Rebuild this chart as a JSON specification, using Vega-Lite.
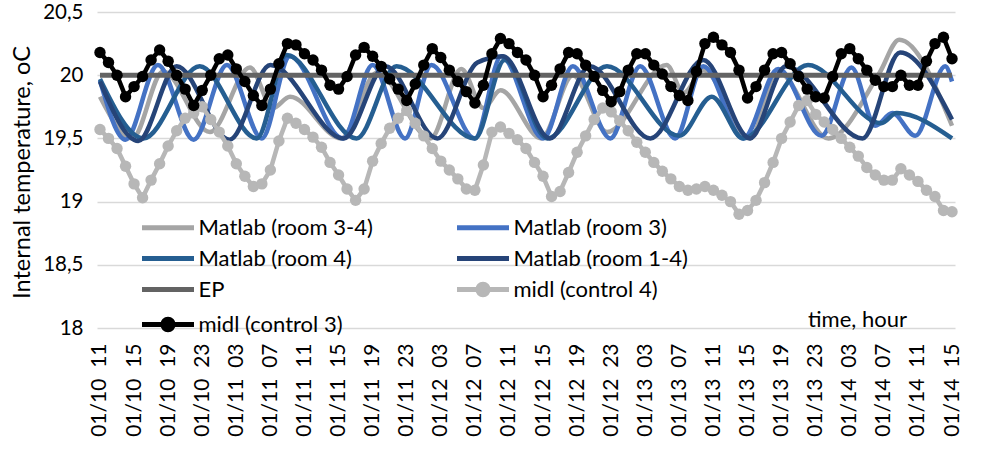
{
  "$schema": "https://vega.github.io/schema/vega-lite/v6.json",
  "width": 858,
  "height": 316,
  "autosize": "none",
  "padding": {"left": 97, "top": 12, "right": 37, "bottom": 126},
  "background": "white",
  "config": {
    "view": {"stroke": null},
    "font": "Lato",
    "axis": {"labelColor": "#000", "titleColor": "#000", "titleFontWeight": "normal", "labelFont": "Lato", "titleFont": "Lato"}
  },
  "data": {
    "values": [
      {"s": "Matlab (room 3-4)", "h": 0, "v": 19.83}, {"s": "Matlab (room 3-4)", "h": 3.8, "v": 19.5}, {"s": "Matlab (room 3-4)", "h": 7.4, "v": 20.03}, {"s": "Matlab (room 3-4)", "h": 12.9, "v": 19.55}, {"s": "Matlab (room 3-4)", "h": 17.6, "v": 20.06}, {"s": "Matlab (room 3-4)", "h": 20.3, "v": 19.74}, {"s": "Matlab (room 3-4)", "h": 22.3, "v": 19.83}, {"s": "Matlab (room 3-4)", "h": 28.3, "v": 19.5}, {"s": "Matlab (room 3-4)", "h": 32.5, "v": 20.02}, {"s": "Matlab (room 3-4)", "h": 38.8, "v": 19.5}, {"s": "Matlab (room 3-4)", "h": 42.4, "v": 20.05}, {"s": "Matlab (room 3-4)", "h": 45, "v": 19.74}, {"s": "Matlab (room 3-4)", "h": 47, "v": 19.88}, {"s": "Matlab (room 3-4)", "h": 51.8, "v": 19.5}, {"s": "Matlab (room 3-4)", "h": 55.5, "v": 20.0}, {"s": "Matlab (room 3-4)", "h": 59.5, "v": 19.55}, {"s": "Matlab (room 3-4)", "h": 66.5, "v": 20.08}, {"s": "Matlab (room 3-4)", "h": 68.5, "v": 19.86}, {"s": "Matlab (room 3-4)", "h": 70.8, "v": 20.04}, {"s": "Matlab (room 3-4)", "h": 76.3, "v": 19.5}, {"s": "Matlab (room 3-4)", "h": 79.5, "v": 20.03}, {"s": "Matlab (room 3-4)", "h": 85.5, "v": 19.5}, {"s": "Matlab (room 3-4)", "h": 91.5, "v": 20.02}, {"s": "Matlab (room 3-4)", "h": 93.8, "v": 20.28}, {"s": "Matlab (room 3-4)", "h": 100, "v": 19.6},

      {"s": "Matlab (room 3)", "h": 0, "v": 19.96}, {"s": "Matlab (room 3)", "h": 3, "v": 19.49}, {"s": "Matlab (room 3)", "h": 6.8, "v": 20.08}, {"s": "Matlab (room 3)", "h": 11, "v": 19.49}, {"s": "Matlab (room 3)", "h": 14.9, "v": 20.08}, {"s": "Matlab (room 3)", "h": 19, "v": 19.5}, {"s": "Matlab (room 3)", "h": 22.3, "v": 20.15}, {"s": "Matlab (room 3)", "h": 28.5, "v": 19.5}, {"s": "Matlab (room 3)", "h": 32, "v": 20.08}, {"s": "Matlab (room 3)", "h": 35.8, "v": 19.5}, {"s": "Matlab (room 3)", "h": 38.9, "v": 20.08}, {"s": "Matlab (room 3)", "h": 44, "v": 19.5}, {"s": "Matlab (room 3)", "h": 47.1, "v": 20.15}, {"s": "Matlab (room 3)", "h": 52, "v": 19.5}, {"s": "Matlab (room 3)", "h": 55.5, "v": 20.07}, {"s": "Matlab (room 3)", "h": 59.9, "v": 19.5}, {"s": "Matlab (room 3)", "h": 63.4, "v": 20.07}, {"s": "Matlab (room 3)", "h": 67.5, "v": 19.5}, {"s": "Matlab (room 3)", "h": 70.8, "v": 20.07}, {"s": "Matlab (room 3)", "h": 75.5, "v": 19.5}, {"s": "Matlab (room 3)", "h": 79.6, "v": 20.05}, {"s": "Matlab (room 3)", "h": 84.7, "v": 19.52}, {"s": "Matlab (room 3)", "h": 88.2, "v": 20.06}, {"s": "Matlab (room 3)", "h": 91, "v": 19.6}, {"s": "Matlab (room 3)", "h": 93, "v": 19.7}, {"s": "Matlab (room 3)", "h": 95.7, "v": 19.52}, {"s": "Matlab (room 3)", "h": 99.2, "v": 20.07}, {"s": "Matlab (room 3)", "h": 100, "v": 19.95},

      {"s": "Matlab (room 4)", "h": 0, "v": 19.97}, {"s": "Matlab (room 4)", "h": 5.1, "v": 19.5}, {"s": "Matlab (room 4)", "h": 11.7, "v": 20.07}, {"s": "Matlab (room 4)", "h": 18.4, "v": 19.5}, {"s": "Matlab (room 4)", "h": 21.9, "v": 20.16}, {"s": "Matlab (room 4)", "h": 30.1, "v": 19.5}, {"s": "Matlab (room 4)", "h": 34.8, "v": 20.07}, {"s": "Matlab (room 4)", "h": 44, "v": 19.5}, {"s": "Matlab (room 4)", "h": 47.5, "v": 20.12}, {"s": "Matlab (room 4)", "h": 52.5, "v": 19.5}, {"s": "Matlab (room 4)", "h": 59.5, "v": 20.07}, {"s": "Matlab (room 4)", "h": 68, "v": 19.52}, {"s": "Matlab (room 4)", "h": 71.8, "v": 19.83}, {"s": "Matlab (room 4)", "h": 75.5, "v": 19.5}, {"s": "Matlab (room 4)", "h": 83.1, "v": 20.08}, {"s": "Matlab (room 4)", "h": 91.7, "v": 19.62}, {"s": "Matlab (room 4)", "h": 93.5, "v": 19.7}, {"s": "Matlab (room 4)", "h": 100, "v": 19.5},

      {"s": "Matlab (room 1-4)", "h": 0, "v": 19.95}, {"s": "Matlab (room 1-4)", "h": 4.5, "v": 19.48}, {"s": "Matlab (room 1-4)", "h": 9, "v": 20.07}, {"s": "Matlab (room 1-4)", "h": 15.2, "v": 19.49}, {"s": "Matlab (room 1-4)", "h": 20, "v": 20.08}, {"s": "Matlab (room 1-4)", "h": 28.6, "v": 19.5}, {"s": "Matlab (room 1-4)", "h": 33.5, "v": 20.07}, {"s": "Matlab (room 1-4)", "h": 39.6, "v": 19.5}, {"s": "Matlab (room 1-4)", "h": 44.3, "v": 20.1}, {"s": "Matlab (room 1-4)", "h": 47.3, "v": 20.15}, {"s": "Matlab (room 1-4)", "h": 52.8, "v": 19.5}, {"s": "Matlab (room 1-4)", "h": 57.5, "v": 20.07}, {"s": "Matlab (room 1-4)", "h": 64.6, "v": 19.5}, {"s": "Matlab (room 1-4)", "h": 70.8, "v": 20.12}, {"s": "Matlab (room 1-4)", "h": 76.3, "v": 19.5}, {"s": "Matlab (room 1-4)", "h": 80.5, "v": 20.07}, {"s": "Matlab (room 1-4)", "h": 89.5, "v": 19.5}, {"s": "Matlab (room 1-4)", "h": 93.9, "v": 20.18}, {"s": "Matlab (room 1-4)", "h": 100, "v": 19.65},

      {"s": "EP", "h": 0, "v": 20}, {"s": "EP", "h": 100, "v": 20},

      {"s": "midl (control 4)", "h": 0, "v": 19.57}, {"s": "midl (control 4)", "h": 1, "v": 19.5}, {"s": "midl (control 4)", "h": 2, "v": 19.42}, {"s": "midl (control 4)", "h": 3, "v": 19.28}, {"s": "midl (control 4)", "h": 4, "v": 19.14}, {"s": "midl (control 4)", "h": 5, "v": 19.03}, {"s": "midl (control 4)", "h": 6, "v": 19.17}, {"s": "midl (control 4)", "h": 7, "v": 19.3}, {"s": "midl (control 4)", "h": 8, "v": 19.44}, {"s": "midl (control 4)", "h": 9, "v": 19.56},
      {"s": "midl (control 4)", "h": 10, "v": 19.66}, {"s": "midl (control 4)", "h": 11, "v": 19.7}, {"s": "midl (control 4)", "h": 12, "v": 19.75}, {"s": "midl (control 4)", "h": 13, "v": 19.65}, {"s": "midl (control 4)", "h": 14, "v": 19.55}, {"s": "midl (control 4)", "h": 15, "v": 19.44}, {"s": "midl (control 4)", "h": 16, "v": 19.3}, {"s": "midl (control 4)", "h": 17, "v": 19.2}, {"s": "midl (control 4)", "h": 18, "v": 19.12}, {"s": "midl (control 4)", "h": 19, "v": 19.14},
      {"s": "midl (control 4)", "h": 20, "v": 19.25}, {"s": "midl (control 4)", "h": 21, "v": 19.48}, {"s": "midl (control 4)", "h": 22, "v": 19.66}, {"s": "midl (control 4)", "h": 23, "v": 19.62}, {"s": "midl (control 4)", "h": 24, "v": 19.57}, {"s": "midl (control 4)", "h": 25, "v": 19.51}, {"s": "midl (control 4)", "h": 26, "v": 19.43}, {"s": "midl (control 4)", "h": 27, "v": 19.31}, {"s": "midl (control 4)", "h": 28, "v": 19.21}, {"s": "midl (control 4)", "h": 29, "v": 19.1},
      {"s": "midl (control 4)", "h": 30, "v": 19.01}, {"s": "midl (control 4)", "h": 31, "v": 19.1}, {"s": "midl (control 4)", "h": 32, "v": 19.32}, {"s": "midl (control 4)", "h": 33, "v": 19.46}, {"s": "midl (control 4)", "h": 34, "v": 19.58}, {"s": "midl (control 4)", "h": 35, "v": 19.66}, {"s": "midl (control 4)", "h": 36, "v": 19.72}, {"s": "midl (control 4)", "h": 37, "v": 19.62}, {"s": "midl (control 4)", "h": 38, "v": 19.52}, {"s": "midl (control 4)", "h": 39, "v": 19.42},
      {"s": "midl (control 4)", "h": 40, "v": 19.32}, {"s": "midl (control 4)", "h": 41, "v": 19.25}, {"s": "midl (control 4)", "h": 42, "v": 19.18}, {"s": "midl (control 4)", "h": 43, "v": 19.1}, {"s": "midl (control 4)", "h": 44, "v": 19.09}, {"s": "midl (control 4)", "h": 45, "v": 19.29}, {"s": "midl (control 4)", "h": 46, "v": 19.55}, {"s": "midl (control 4)", "h": 47, "v": 19.59}, {"s": "midl (control 4)", "h": 48, "v": 19.54}, {"s": "midl (control 4)", "h": 49, "v": 19.49},
      {"s": "midl (control 4)", "h": 50, "v": 19.42}, {"s": "midl (control 4)", "h": 51, "v": 19.31}, {"s": "midl (control 4)", "h": 52, "v": 19.2}, {"s": "midl (control 4)", "h": 53, "v": 19.04}, {"s": "midl (control 4)", "h": 54, "v": 19.08}, {"s": "midl (control 4)", "h": 55, "v": 19.23}, {"s": "midl (control 4)", "h": 56, "v": 19.39}, {"s": "midl (control 4)", "h": 57, "v": 19.52}, {"s": "midl (control 4)", "h": 58, "v": 19.65}, {"s": "midl (control 4)", "h": 59, "v": 19.74},
      {"s": "midl (control 4)", "h": 60, "v": 19.71}, {"s": "midl (control 4)", "h": 61, "v": 19.64}, {"s": "midl (control 4)", "h": 62, "v": 19.56}, {"s": "midl (control 4)", "h": 63, "v": 19.47}, {"s": "midl (control 4)", "h": 64, "v": 19.39}, {"s": "midl (control 4)", "h": 65, "v": 19.31}, {"s": "midl (control 4)", "h": 66, "v": 19.24}, {"s": "midl (control 4)", "h": 67, "v": 19.18}, {"s": "midl (control 4)", "h": 68, "v": 19.12}, {"s": "midl (control 4)", "h": 69, "v": 19.09},
      {"s": "midl (control 4)", "h": 70, "v": 19.1}, {"s": "midl (control 4)", "h": 71, "v": 19.12}, {"s": "midl (control 4)", "h": 72, "v": 19.09}, {"s": "midl (control 4)", "h": 73, "v": 19.05}, {"s": "midl (control 4)", "h": 74, "v": 19.0}, {"s": "midl (control 4)", "h": 75, "v": 18.9}, {"s": "midl (control 4)", "h": 76, "v": 18.93}, {"s": "midl (control 4)", "h": 77, "v": 19.01}, {"s": "midl (control 4)", "h": 78, "v": 19.15}, {"s": "midl (control 4)", "h": 79, "v": 19.31},
      {"s": "midl (control 4)", "h": 80, "v": 19.5}, {"s": "midl (control 4)", "h": 81, "v": 19.63}, {"s": "midl (control 4)", "h": 82, "v": 19.76}, {"s": "midl (control 4)", "h": 83, "v": 19.8}, {"s": "midl (control 4)", "h": 84, "v": 19.69}, {"s": "midl (control 4)", "h": 85, "v": 19.63}, {"s": "midl (control 4)", "h": 86, "v": 19.57}, {"s": "midl (control 4)", "h": 87, "v": 19.5}, {"s": "midl (control 4)", "h": 88, "v": 19.43}, {"s": "midl (control 4)", "h": 89, "v": 19.36},
      {"s": "midl (control 4)", "h": 90, "v": 19.27}, {"s": "midl (control 4)", "h": 91, "v": 19.21}, {"s": "midl (control 4)", "h": 92, "v": 19.17}, {"s": "midl (control 4)", "h": 93, "v": 19.17}, {"s": "midl (control 4)", "h": 94, "v": 19.26}, {"s": "midl (control 4)", "h": 95, "v": 19.21}, {"s": "midl (control 4)", "h": 96, "v": 19.16}, {"s": "midl (control 4)", "h": 97, "v": 19.09}, {"s": "midl (control 4)", "h": 98, "v": 19.04}, {"s": "midl (control 4)", "h": 99, "v": 18.93},
      {"s": "midl (control 4)", "h": 100, "v": 18.92},

      {"s": "midl (control 3)", "h": 0, "v": 20.18}, {"s": "midl (control 3)", "h": 1, "v": 20.1}, {"s": "midl (control 3)", "h": 2, "v": 20.0}, {"s": "midl (control 3)", "h": 3, "v": 19.83}, {"s": "midl (control 3)", "h": 4, "v": 19.91}, {"s": "midl (control 3)", "h": 5, "v": 19.99}, {"s": "midl (control 3)", "h": 6, "v": 20.12}, {"s": "midl (control 3)", "h": 7, "v": 20.2}, {"s": "midl (control 3)", "h": 8, "v": 20.11}, {"s": "midl (control 3)", "h": 9, "v": 20.0},
      {"s": "midl (control 3)", "h": 10, "v": 19.89}, {"s": "midl (control 3)", "h": 11, "v": 19.76}, {"s": "midl (control 3)", "h": 12, "v": 19.88}, {"s": "midl (control 3)", "h": 13, "v": 20.0}, {"s": "midl (control 3)", "h": 14, "v": 20.13}, {"s": "midl (control 3)", "h": 15, "v": 20.16}, {"s": "midl (control 3)", "h": 16, "v": 20.05}, {"s": "midl (control 3)", "h": 17, "v": 19.95}, {"s": "midl (control 3)", "h": 18, "v": 19.84}, {"s": "midl (control 3)", "h": 19, "v": 19.76},
      {"s": "midl (control 3)", "h": 20, "v": 19.89}, {"s": "midl (control 3)", "h": 21, "v": 20.09}, {"s": "midl (control 3)", "h": 22, "v": 20.25}, {"s": "midl (control 3)", "h": 23, "v": 20.24}, {"s": "midl (control 3)", "h": 24, "v": 20.17}, {"s": "midl (control 3)", "h": 25, "v": 20.12}, {"s": "midl (control 3)", "h": 26, "v": 20.04}, {"s": "midl (control 3)", "h": 27, "v": 19.92}, {"s": "midl (control 3)", "h": 28, "v": 19.89}, {"s": "midl (control 3)", "h": 29, "v": 19.99},
      {"s": "midl (control 3)", "h": 30, "v": 20.16}, {"s": "midl (control 3)", "h": 31, "v": 20.22}, {"s": "midl (control 3)", "h": 32, "v": 20.15}, {"s": "midl (control 3)", "h": 33, "v": 20.07}, {"s": "midl (control 3)", "h": 34, "v": 19.97}, {"s": "midl (control 3)", "h": 35, "v": 19.89}, {"s": "midl (control 3)", "h": 36, "v": 19.8}, {"s": "midl (control 3)", "h": 37, "v": 19.93}, {"s": "midl (control 3)", "h": 38, "v": 20.08}, {"s": "midl (control 3)", "h": 39, "v": 20.21},
      {"s": "midl (control 3)", "h": 40, "v": 20.14}, {"s": "midl (control 3)", "h": 41, "v": 20.04}, {"s": "midl (control 3)", "h": 42, "v": 19.95}, {"s": "midl (control 3)", "h": 43, "v": 19.87}, {"s": "midl (control 3)", "h": 44, "v": 19.78}, {"s": "midl (control 3)", "h": 45, "v": 19.92}, {"s": "midl (control 3)", "h": 46, "v": 20.17}, {"s": "midl (control 3)", "h": 47, "v": 20.29}, {"s": "midl (control 3)", "h": 48, "v": 20.25}, {"s": "midl (control 3)", "h": 49, "v": 20.18},
      {"s": "midl (control 3)", "h": 50, "v": 20.12}, {"s": "midl (control 3)", "h": 51, "v": 20.0}, {"s": "midl (control 3)", "h": 52, "v": 19.83}, {"s": "midl (control 3)", "h": 53, "v": 19.92}, {"s": "midl (control 3)", "h": 54, "v": 20.05}, {"s": "midl (control 3)", "h": 55, "v": 20.18}, {"s": "midl (control 3)", "h": 56, "v": 20.17}, {"s": "midl (control 3)", "h": 57, "v": 20.08}, {"s": "midl (control 3)", "h": 58, "v": 19.99}, {"s": "midl (control 3)", "h": 59, "v": 19.88},
      {"s": "midl (control 3)", "h": 60, "v": 19.79}, {"s": "midl (control 3)", "h": 61, "v": 19.87}, {"s": "midl (control 3)", "h": 62, "v": 20.04}, {"s": "midl (control 3)", "h": 63, "v": 20.17}, {"s": "midl (control 3)", "h": 64, "v": 20.17}, {"s": "midl (control 3)", "h": 65, "v": 20.08}, {"s": "midl (control 3)", "h": 66, "v": 20.01}, {"s": "midl (control 3)", "h": 67, "v": 19.91}, {"s": "midl (control 3)", "h": 68, "v": 19.84}, {"s": "midl (control 3)", "h": 69, "v": 19.8},
      {"s": "midl (control 3)", "h": 70, "v": 20.03}, {"s": "midl (control 3)", "h": 71, "v": 20.25}, {"s": "midl (control 3)", "h": 72, "v": 20.3}, {"s": "midl (control 3)", "h": 73, "v": 20.24}, {"s": "midl (control 3)", "h": 74, "v": 20.18}, {"s": "midl (control 3)", "h": 75, "v": 20.04}, {"s": "midl (control 3)", "h": 76, "v": 19.82}, {"s": "midl (control 3)", "h": 77, "v": 19.91}, {"s": "midl (control 3)", "h": 78, "v": 20.04}, {"s": "midl (control 3)", "h": 79, "v": 20.17},
      {"s": "midl (control 3)", "h": 80, "v": 20.18}, {"s": "midl (control 3)", "h": 81, "v": 20.09}, {"s": "midl (control 3)", "h": 82, "v": 19.99}, {"s": "midl (control 3)", "h": 83, "v": 19.89}, {"s": "midl (control 3)", "h": 84, "v": 19.83}, {"s": "midl (control 3)", "h": 85, "v": 19.82}, {"s": "midl (control 3)", "h": 86, "v": 19.99}, {"s": "midl (control 3)", "h": 87, "v": 20.17}, {"s": "midl (control 3)", "h": 88, "v": 20.21}, {"s": "midl (control 3)", "h": 89, "v": 20.13},
      {"s": "midl (control 3)", "h": 90, "v": 20.04}, {"s": "midl (control 3)", "h": 91, "v": 19.96}, {"s": "midl (control 3)", "h": 92, "v": 19.91}, {"s": "midl (control 3)", "h": 93, "v": 19.91}, {"s": "midl (control 3)", "h": 94, "v": 20.0}, {"s": "midl (control 3)", "h": 95, "v": 19.92}, {"s": "midl (control 3)", "h": 96, "v": 19.92}, {"s": "midl (control 3)", "h": 97, "v": 20.11}, {"s": "midl (control 3)", "h": 98, "v": 20.25}, {"s": "midl (control 3)", "h": 99, "v": 20.3},
      {"s": "midl (control 3)", "h": 100, "v": 20.13}
    ]
  },
  "encoding": {
    "x": {
      "field": "h",
      "type": "quantitative",
      "scale": {"domain": [-0.35, 100.35], "nice": false, "zero": false},
      "axis": {
        "values": [0, 4, 8, 12, 16, 20, 24, 28, 32, 36, 40, 44, 48, 52, 56, 60, 64, 68, 72, 76, 80, 84, 88, 92, 96, 100],
        "labelExpr": "'01/' + (10 + floor((datum.value + 11) / 24)) + '\u00a0\u00a0' + pad('' + ((datum.value + 11) % 24), 2, '0', 'left')",
        "labelAngle": 270,
        "labelFontSize": 21,
        "labelPadding": 15,
        "labelOverlap": false,
        "labelFlush": false,
        "ticks": false,
        "tickSize": 0,
        "domain": false,
        "grid": false,
        "title": "time, hour",
        "titleFontSize": 22,
        "titleX": 760,
        "titleY": -2,
        "titleAlign": "center",
        "titleAngle": 0,
        "titleBaseline": "alphabetic"
      }
    },
    "y": {
      "field": "v",
      "type": "quantitative",
      "scale": {"domain": [18, 20.5], "nice": false, "zero": false},
      "axis": {
        "values": [18, 18.5, 19, 19.5, 20, 20.5],
        "labelExpr": "replace(format(datum.value, '.1~f'), '.', ',')",
        "labelFontSize": 20.5,
        "labelPadding": 14,
        "ticks": false,
        "tickSize": 0,
        "domain": false,
        "grid": true,
        "gridColor": "#d9d9d9",
        "gridWidth": 1.5,
        "title": "Internal temperature, oC",
        "titleFontSize": 23.5,
        "titleX": -75,
        "titleY": 160,
        "titleAngle": 270,
        "titleAlign": "center",
        "titleBaseline": "middle"
      }
    },
    "color": {
      "field": "s",
      "type": "nominal",
      "scale": {
        "domain": ["Matlab (room 3-4)", "Matlab (room 3)", "Matlab (room 4)", "Matlab (room 1-4)", "EP", "midl (control 4)", "midl (control 3)"],
        "range": ["#a5a5a5", "#4472c4", "#255e91", "#264478", "#636363", "#b7b7b7", "#000000"]
      },
      "legend": {
        "title": null,
        "orient": "none",
        "direction": "horizontal",
        "legendX": 45,
        "legendY": 200,
        "columns": 2,
        "padding": 0,
        "symbolType": "M-2,0H2",
        "symbolSize": 676,
        "symbolStrokeWidth": 5,
        "symbolOpacity": 1,
        "symbolOffset": 10.5,
        "labelOffset": 15,
        "labelFontSize": 22,
        "labelFont": "Lato",
        "labelColor": "#000",
        "labelLimit": 0,
        "rowPadding": 4,
        "columnPadding": 74,
        "encode": {
          "symbols": {
            "update": {
              "shape": {"signal": "indexof(datum.value, 'midl') === 0 ? 'M-2,0H2M0.4,0A0.4,0.4,0,1,1,-0.4,0A0.4,0.4,0,1,1,0.4,0' : 'M-2,0H2'"},
              "fill": {"signal": "scale('color', datum.value)"},
              "stroke": {"signal": "scale('color', datum.value)"},
              "strokeWidth": {"value": 5},
              "opacity": {"value": 1}
            }
          }
        }
      }
    }
  },
  "layer": [
    {
      "transform": [{"filter": "indexof(datum.s, 'Matlab') === 0"}],
      "mark": {"type": "line", "interpolate": "monotone", "strokeWidth": 4.5}
    },
    {
      "transform": [{"filter": "datum.s === 'EP'"}],
      "mark": {"type": "line", "strokeWidth": 5}
    },
    {
      "transform": [{"filter": "datum.s === 'midl (control 4)'"}],
      "mark": {"type": "line", "strokeWidth": 4.5, "point": {"filled": true, "size": 130, "opacity": 1}}
    },
    {
      "transform": [{"filter": "datum.s === 'midl (control 3)'"}],
      "mark": {"type": "line", "strokeWidth": 4.5, "point": {"filled": true, "size": 130, "opacity": 1}}
    }
  ]
}
